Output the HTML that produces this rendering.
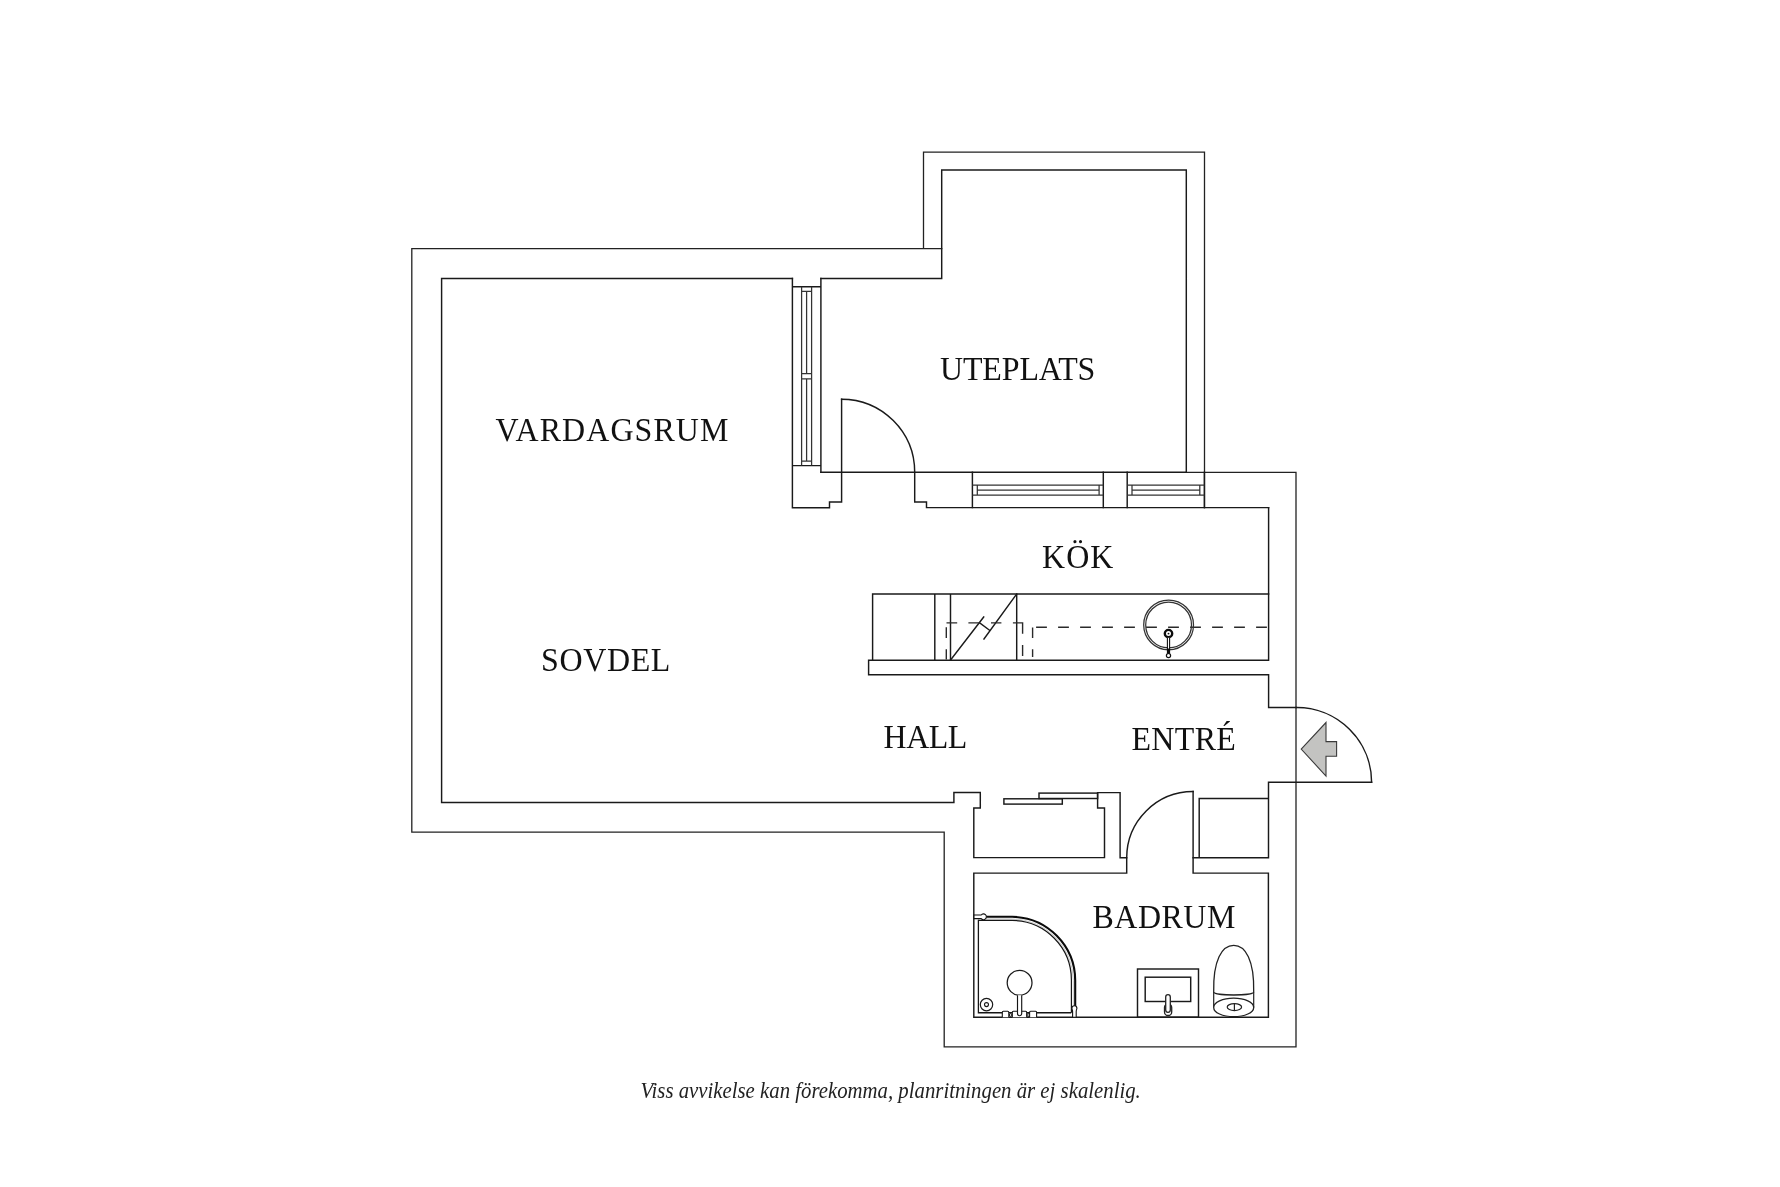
<!DOCTYPE html>
<html><head><meta charset="utf-8">
<style>
html,body{margin:0;padding:0;background:#fff;width:1780px;height:1187px;overflow:hidden}
svg{display:block;will-change:transform}
.w{fill:none;stroke:#1a1a1a;stroke-width:1.45;stroke-linejoin:miter;stroke-linecap:square}
.o{fill:none;stroke:#222;stroke-width:1.3;stroke-linecap:square}
.g{fill:none;stroke:#333;stroke-width:1.25}
.d{fill:none;stroke:#2a2a2a;stroke-width:1.4}
.t{font-family:"Liberation Serif",serif;font-size:34px;fill:#111}
.c{font-family:"Liberation Serif",serif;font-style:italic;font-size:23px;fill:#222}
</style></head>
<body>
<svg width="1780" height="1187" viewBox="0 0 1780 1187">
<rect width="1780" height="1187" fill="#fff"/>

<!-- outer walls -->
<path class="o" d="M411.8 248.6 H941.7 M923.5 248.6 V152.1 H1204.5 V507.6 M1186.3 472.3 H1296 V1046.8 H944.2 V832.1 H411.8 V248.6"/>

<!-- uteplats inner -->
<path class="w" d="M941.7 278.5 V169.9 H1186.3 V472.3 M820.9 472.3 H1186.3 M820.9 278.5 H941.7"/>

<!-- vardagsrum inner -->
<path class="w" d="M792.4 278.5 H441.6 V802.5 H953.9 V792.5 H980.3 V808 H973.8 V857.6 H1104.5 V808 H1097.6 V792.6 H1120.1 V857.8 H1126.7 V873.1 H973.8 V1017.2 H1268.4 V873.1 H1193.1 V791.5"/>
<path class="w" d="M1126.7 857.8 A66.4 66.4 0 0 1 1193.1 791.5"/>
<path class="w" d="M1193.1 857.8 H1268.5 V782.3 H1371.6 M1268.5 798.5 H1199.2 V857.8"/>
<path class="w" d="M1296.2 707.5 A74.8 74.8 0 0 1 1371.6 782.3"/>
<path class="w" d="M1268.6 507.6 V660.2 M868.6 660.2 H1268.6 M868.6 660.2 V674.8 H1268.6 V707.5 H1296.2"/>

<!-- window wall between vardagsrum/uteplats -->
<path class="w" d="M792.4 278.5 V507.7 H829.5 V502 H841.6 V399.2 M820.9 278.5 V472.3 M792.4 286.7 H820.9 M792.4 465.6 H820.9"/>
<path class="g" d="M801.6 286.7 V465.6 M811.6 286.7 V465.6 M806.6 291.3 V373.5 M806.6 378.9 V461 M801.6 291.3 H811.6 M801.6 373.5 H811.6 M801.6 378.9 H811.6 M801.6 461 H811.6"/>
<path class="w" d="M841.6 399.2 A73.1 73.1 0 0 1 914.7 472.3 V502 H926.5 V507.6 H1268.6"/>

<!-- kitchen windows -->
<path class="w" d="M972.4 472.3 V507.6 M1103.3 472.3 V507.6 M1127.2 472.3 V507.6 M1204.4 472.3 V507.6"/>
<path class="g" d="M972.4 485.1 H1103.3 M972.4 495 H1103.3 M977.3 490.1 H1099.1 M977.3 485.1 V495 M1099.1 485.1 V495 M1127.2 485.1 H1204.4 M1127.2 495 H1204.4 M1132 490.1 H1199.8 M1132 485.1 V495 M1199.8 485.1 V495"/>

<!-- counter -->
<path class="w" d="M872.6 660.2 V594 H1268.6 M934.8 594 V660.2 M950.5 594 V660.2 M1016.7 594 V660.2"/>
<path class="w" d="M950.6 659.9 L983.7 617 M979.3 622.7 L989.9 630.5 M984 639 L1016.7 594"/>
<path class="d" d="M946.5 622.9 H957.2 M968.4 622.9 H979.2 M991 622.9 H1001.4 M1012.9 622.9 H1022.6 V633.7 M1022.6 645.1 V655.9 M946.3 627.2 V638 M946.3 649.2 V659.6 M1032.6 627.6 V638 M1032.6 649.2 V656.9"/>
<path class="d" d="M1036.1 627.2 H1268.6" stroke-dasharray="10.8 11.2"/>
<!-- sink -->
<circle cx="1168.6" cy="624.9" r="24.9" class="g" stroke-width="1.3"/>
<circle cx="1168.6" cy="624.9" r="22.9" class="g" stroke-width="1.2"/>
<circle cx="1168.5" cy="633.6" r="3.7" fill="#fff" stroke="#0c0c0c" stroke-width="2.4"/>
<circle cx="1168.5" cy="633.6" r="0.95" fill="#111"/>
<path d="M1167.4 637.8 V649 H1169.6 V637.8" fill="#fff" stroke="#111" stroke-width="1.1"/>
<rect x="1166.9" y="649" width="3.2" height="5.2" fill="#0c0c0c"/>
<circle cx="1168.5" cy="655.6" r="2.1" fill="#fff" stroke="#111" stroke-width="1.2"/>

<!-- entrance arrow -->
<path d="M1301.2 749.1 L1326 722.5 V741.6 H1336.6 V756.2 H1326 V776 Z" fill="#c3c3c1" stroke="#3a3a3a" stroke-width="1.1"/>

<!-- sliding door -->
<rect x="1003.9" y="798.8" width="58.4" height="5.3" class="w"/>
<rect x="1039" y="793.1" width="58.6" height="5.4" class="w"/>

<!-- shower -->
<path d="M978.4 919.8 V1012.75 H1071.2" fill="none" stroke="#161616" stroke-width="1.3"/>
<path d="M985.5 916.8 H1012.2 A63.8 63.8 0 0 1 1075.2 980.6 V1006" fill="none" stroke="#0a0a0a" stroke-width="2.1"/>
<path d="M986 918.9 H1012.2 A61.7 61.7 0 0 1 1073.3 980.6 V1006" fill="none" stroke="#bbb" stroke-width="0.8"/>
<path d="M978.4 920.4 H1012.2 A59.6 59.6 0 0 1 1071.4 980.6 V1012.75" fill="none" stroke="#161616" stroke-width="1.2"/>
<path d="M974 915 H981.2 A2.9 2.9 0 1 1 981.2 918.6 H974 Z" fill="#fff" stroke="#111" stroke-width="1.1"/>
<path d="M1072.6 1017.2 V1011.5 C1072.6 1010 1071.9 1009 1071.9 1008.2 A2.5 2.5 0 0 1 1076.9 1008.2 C1076.9 1009 1076.2 1010 1076.2 1011.5 V1017.2 Z" fill="#fff" stroke="#111" stroke-width="1.1"/>
<circle cx="1019.6" cy="982.8" r="12.4" fill="none" stroke="#1a1a1a" stroke-width="1.25"/>
<path d="M1002.3 1017.2 V1012.3 Q1002.3 1011.3 1003.3 1011.3 H1007.8 Q1008.8 1011.3 1008.8 1012.3 V1017.2 M1012.3 1017.2 V1012.3 Q1012.3 1011.3 1013.3 1011.3 H1025.7 Q1026.7 1011.3 1026.7 1012.3 V1017.2 M1029.6 1017.2 V1012.3 Q1029.6 1011.3 1030.6 1011.3 H1035.6 Q1036.6 1011.3 1036.6 1012.3 V1017.2" fill="#fff" stroke="#151515" stroke-width="1.1"/>
<circle cx="1010.6" cy="1015" r="1.3" fill="#fff" stroke="#151515" stroke-width="1"/>
<circle cx="1028.2" cy="1015" r="1.3" fill="#fff" stroke="#151515" stroke-width="1"/>
<path d="M1017.5 995.2 V1013.6 A2.1 2.1 0 0 0 1021.7 1013.6 V995.2" fill="#fff" stroke="#151515" stroke-width="1.15"/>
<circle cx="986.5" cy="1004.6" r="6.2" fill="none" stroke="#1a1a1a" stroke-width="1.2"/>
<circle cx="986.5" cy="1004.6" r="2" fill="none" stroke="#1a1a1a" stroke-width="1.1"/>

<!-- washbasin -->
<rect x="1137.5" y="969" width="61" height="48.2" class="w" stroke-width="1.4"/>
<rect x="1145.2" y="977.2" width="45.5" height="24.3" class="w" stroke-width="1.5"/>
<rect x="1164.5" y="1004" width="7.2" height="11.5" rx="3.6" fill="#fff" stroke="#222" stroke-width="1.3"/>
<rect x="1165.7" y="994.6" width="4.6" height="17.8" rx="2.3" fill="#fff" stroke="#222" stroke-width="1.3"/>

<!-- toilet -->
<path d="M1213.7 992 C1213 960 1222 945.4 1233.7 945.4 C1245.4 945.4 1254.4 960 1253.7 992 C1253.7 996 1213.7 996 1213.7 992 Z" fill="#fff" stroke="#222" stroke-width="1.3"/>
<path d="M1213.7 992 V1007.4 M1253.7 992 V1007.4" fill="none" stroke="#222" stroke-width="1.2"/>
<ellipse cx="1233.7" cy="1007.4" rx="20" ry="9.3" fill="#fff" stroke="#222" stroke-width="1.3"/>
<ellipse cx="1234.4" cy="1007.1" rx="7.2" ry="3.5" fill="none" stroke="#222" stroke-width="1.2"/>
<path d="M1234.4 1003.6 V1010.6" stroke="#222" stroke-width="1.2"/>

<!-- labels -->
<g transform="translate(495.50 441.40) scale(0.94 1)"><text class="t" x="0" y="0" textLength="247.74" lengthAdjust="spacing">VARDAGSRUM</text></g>
<g transform="translate(940.00 380.20) scale(0.94 1)"><text class="t" x="0" y="0" textLength="165.30" lengthAdjust="spacing">UTEPLATS</text></g>
<g transform="translate(1042.00 567.60) scale(0.94 1)"><text class="t" x="0" y="0" textLength="75.94" lengthAdjust="spacing">KÖK</text></g>
<g transform="translate(541.00 670.50) scale(0.94 1)"><text class="t" x="0" y="0" textLength="137.64" lengthAdjust="spacing">SOVDEL</text></g>
<g transform="translate(883.50 748.20) scale(0.94 1)"><text class="t" x="0" y="0" textLength="89.23" lengthAdjust="spacing">HALL</text></g>
<g transform="translate(1131.50 749.60) scale(0.94 1)"><text class="t" x="0" y="0" textLength="111.04" lengthAdjust="spacing">ENTRÉ</text></g>
<g transform="translate(1092.50 928.10) scale(0.94 1)"><text class="t" x="0" y="0" textLength="152.00" lengthAdjust="spacing">BADRUM</text></g>
<text class="c" x="640.4" y="1097.8" textLength="500.4" lengthAdjust="spacingAndGlyphs">Viss avvikelse kan förekomma, planritningen är ej skalenlig.</text>
</svg>
</body></html>
